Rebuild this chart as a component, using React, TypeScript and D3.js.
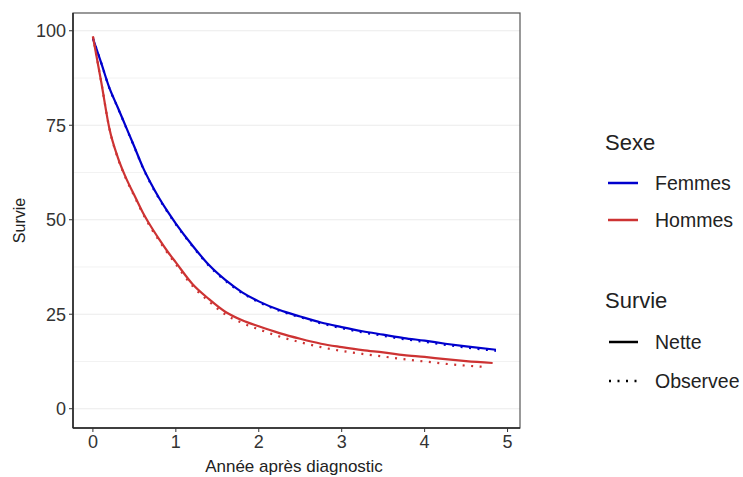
import React from "react";
import * as d3 from "d3";

// temps (années) et survie (%)
const tFemmes = [0, 0.1, 0.2, 0.3, 0.4, 0.5, 0.6, 0.7, 0.8, 0.9, 1.0, 1.2, 1.4, 1.6, 1.8, 2.0, 2.25, 2.5, 2.75, 3.0, 3.25, 3.5, 3.75, 4.0, 4.25, 4.5, 4.86];
const femmesNette = [98, 91.5, 84.8, 79.7, 74.5, 69.3, 64, 59.6, 55.7, 52.2, 49, 43.2, 38, 34, 30.8, 28.4, 26.1, 24.4, 22.8, 21.6, 20.5, 19.6, 18.7, 18, 17.2, 16.5, 15.6];
const femmesObservee = [98, 91.5, 84.7, 79.6, 74.4, 69.2, 63.9, 59.4, 55.5, 52, 48.8, 43, 37.8, 33.8, 30.6, 28.2, 25.9, 24.2, 22.6, 21.3, 20.2, 19.3, 18.4, 17.7, 16.9, 16.2, 15.3];

const tHommes = [0, 0.1, 0.2, 0.3, 0.4, 0.5, 0.6, 0.7, 0.8, 0.9, 1.0, 1.2, 1.4, 1.6, 1.8, 2.0, 2.25, 2.5, 2.75, 3.0, 3.25, 3.5, 3.75, 4.0, 4.25, 4.5, 4.82];
const hommesNette = [98.5, 86.5, 74, 66.5, 61, 56.5, 52, 48.2, 44.8, 41.6, 38.7, 33, 29, 25.6, 23.4, 21.8, 20, 18.5, 17.2, 16.3, 15.5, 14.9, 14.2, 13.7, 13.1, 12.6, 12.1];
const tHommesObs = [0, 0.1, 0.2, 0.3, 0.4, 0.5, 0.6, 0.7, 0.8, 0.9, 1.0, 1.2, 1.4, 1.6, 1.8, 2.0, 2.25, 2.5, 2.75, 3.0, 3.25, 3.5, 3.75, 4.0, 4.25, 4.5, 4.76];
const hommesObservee = [98.5, 86.5, 74, 66.3, 60.8, 56.2, 51.7, 47.8, 44.4, 41.2, 38.2, 32.5, 28.4, 24.9, 22.7, 21, 19.1, 17.6, 16.3, 15.3, 14.5, 13.8, 13.1, 12.5, 11.9, 11.4, 11.0];

const xTicks = [0, 1, 2, 3, 4, 5];
const yTicks = [0, 25, 50, 75, 100];
const yMinor = [12.5, 37.5, 62.5, 87.5];

const sexes = ["Femmes", "Hommes"];
const survies = ["Nette", "Observee"];

const font = "'Liberation Sans', Arial, sans-serif";
const colors: Record<string, string> = { Femmes: "#0000CD", Hommes: "#CD3333" };
const dash: Record<string, string | undefined> = { Nette: undefined, Observee: "2 6.5" };

const series = [
  { sexe: "Femmes", survie: "Nette", t: tFemmes, s: femmesNette },
  { sexe: "Femmes", survie: "Observee", t: tFemmes, s: femmesObservee },
  { sexe: "Hommes", survie: "Nette", t: tHommes, s: hommesNette },
  { sexe: "Hommes", survie: "Observee", t: tHommesObs, s: hommesObservee },
];

export default function App() {
  const W = 743, H = 477;
  const left = 73, right = 520, top = 13, bottom = 428;

  const x = d3.scaleLinear().domain([-0.24, 5.15]).range([left, right]);
  const y = d3.scaleLinear().domain([-5.1, 104.7]).range([bottom, top]);

  const line = d3.line<[number, number]>()
    .x(d => x(d[0]))
    .y(d => y(d[1]))
    .curve(d3.curveMonotoneX);

  return (
    <svg width={W} height={H} style={{ position: "absolute", left: 0, top: 0, background: "white" }}>
      {/* grille */}
      {yMinor.map(v => (
        <line key={"m" + v} x1={left} x2={right} y1={y(v)} y2={y(v)} stroke="#f2f2f2" strokeWidth={1} />
      ))}
      {yTicks.map(v => (
        <line key={"g" + v} x1={left} x2={right} y1={y(v)} y2={y(v)} stroke="#ebebeb" strokeWidth={1.1} />
      ))}

      {/* courbes */}
      {series.map(d => (
        <path
          key={d.sexe + d.survie}
          d={line(d.t.map((t, i) => [t, d.s[i]] as [number, number])) || ""}
          fill="none"
          stroke={colors[d.sexe]}
          strokeWidth={2.2}
          strokeDasharray={dash[d.survie]}
        />
      ))}

      {/* cadre */}
      <rect x={left} y={top} width={right - left} height={bottom - top} fill="none" stroke="#555" strokeWidth={1.2} />
      <line x1={left} x2={left} y1={top} y2={bottom} stroke="#222" strokeWidth={1.5} />
      <line x1={left} x2={right} y1={bottom} y2={bottom} stroke="#222" strokeWidth={1.5} />

      {/* axe y */}
      {yTicks.map(v => (
        <g key={"y" + v}>
          <line x1={left - 4} x2={left} y1={y(v)} y2={y(v)} stroke="#333" />
          <text x={left - 7} y={y(v)} dy="0.36em" textAnchor="end" fontFamily={font} fontSize={18} fill="#333">{v}</text>
        </g>
      ))}
      {/* axe x */}
      {xTicks.map(v => (
        <g key={"x" + v}>
          <line x1={x(v)} x2={x(v)} y1={bottom} y2={bottom + 4} stroke="#333" />
          <text x={x(v)} y={bottom + 19.5} textAnchor="middle" fontFamily={font} fontSize={18} fill="#333">{v}</text>
        </g>
      ))}
      <text x={294} y={472} textAnchor="middle" fontFamily={font} fontSize={17} fill="#222">Année après diagnostic</text>
      <text transform={`translate(25,${(top + bottom) / 2}) rotate(-90)`} textAnchor="middle" fontFamily={font} fontSize={16} fill="#222">Survie</text>

      {/* légende */}
      <text x={605} y={150} fontFamily={font} fontSize={22} fill="#222">Sexe</text>
      {sexes.map((s, i) => (
        <g key={s}>
          <line x1={608} x2={638} y1={183 + i * 37} y2={183 + i * 37} stroke={colors[s]} strokeWidth={2.5} />
          <text x={655} y={183 + i * 37} dy="0.36em" fontFamily={font} fontSize={19.5} fill="#222">{s}</text>
        </g>
      ))}
      <text x={605} y={308} fontFamily={font} fontSize={22} fill="#222">Survie</text>
      {survies.map((s, i) => (
        <g key={s}>
          <line x1={609} x2={638} y1={342 + i * 39} y2={342 + i * 39} stroke="#000" strokeWidth={2.5} strokeDasharray={dash[s]} />
          <text x={655} y={342 + i * 39} dy="0.36em" fontFamily={font} fontSize={19.5} fill="#222">{s}</text>
        </g>
      ))}
    </svg>
  );
}
